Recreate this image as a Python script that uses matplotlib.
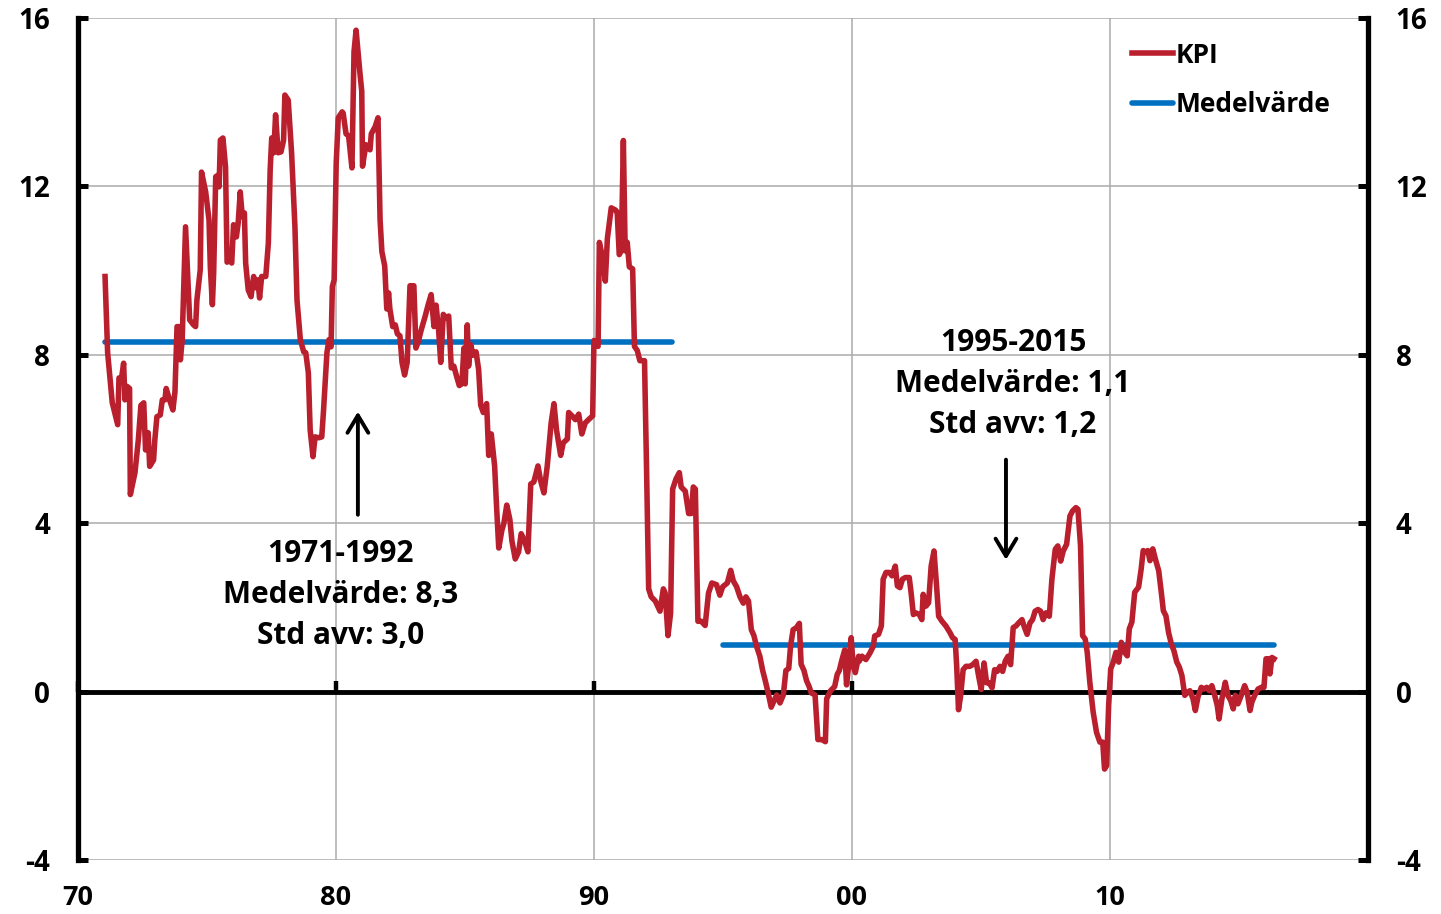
import matplotlib
matplotlib.use("Agg")
import matplotlib.pyplot as plt
import numpy as np

# ====== 資料 ======
# KPI, årlig förändring i procent
kpi_year = [
    1971.05, 1971.15, 1971.33, 1971.54, 1971.59, 1971.69, 1971.77, 1971.82, 1971.90, 1972.00,
    1972.03, 1972.21, 1972.34, 1972.44, 1972.55, 1972.62, 1972.72, 1972.78, 1972.93, 1972.98,
    1973.06, 1973.19, 1973.27, 1973.37, 1973.42, 1973.55, 1973.68, 1973.76, 1973.84, 1973.91,
    1973.97, 1974.04, 1974.10, 1974.17, 1974.25, 1974.33, 1974.48, 1974.56, 1974.61, 1974.74,
    1974.79, 1974.95, 1975.08, 1975.13, 1975.21, 1975.26, 1975.34, 1975.44, 1975.47, 1975.52,
    1975.62, 1975.72, 1975.78, 1975.88, 1975.96, 1976.03, 1976.14, 1976.21, 1976.29, 1976.37,
    1976.45, 1976.50, 1976.60, 1976.71, 1976.81, 1976.91, 1976.97, 1977.04, 1977.12, 1977.28,
    1977.38, 1977.45, 1977.51, 1977.59, 1977.66, 1977.76, 1977.87, 1977.97, 1978.02, 1978.15,
    1978.28, 1978.41, 1978.49, 1978.62, 1978.75, 1978.83, 1978.93, 1979.00, 1979.11, 1979.19,
    1979.34, 1979.45, 1979.52, 1979.65, 1979.73, 1979.81, 1979.86, 1979.93, 1980.01, 1980.09,
    1980.24, 1980.28, 1980.39, 1980.49, 1980.62, 1980.70, 1980.78, 1980.93, 1981.00, 1981.03,
    1981.16, 1981.32, 1981.37, 1981.52, 1981.63, 1981.71, 1981.78, 1981.89, 1981.97, 1982.04,
    1982.09, 1982.20, 1982.30, 1982.38, 1982.48, 1982.56, 1982.66, 1982.76, 1982.87, 1983.02,
    1983.10, 1983.20, 1983.30, 1983.46, 1983.57, 1983.69, 1983.80, 1983.88, 1983.98, 1984.06,
    1984.16, 1984.26, 1984.37, 1984.47, 1984.57, 1984.68, 1984.78, 1984.88, 1984.96, 1985.01,
    1985.09, 1985.14, 1985.22, 1985.32, 1985.43, 1985.53, 1985.61, 1985.71, 1985.84, 1985.92,
    1986.02, 1986.15, 1986.23, 1986.31, 1986.43, 1986.51, 1986.62, 1986.74, 1986.82, 1986.95,
    1987.08, 1987.18, 1987.31, 1987.44, 1987.55, 1987.67, 1987.83, 1987.93, 1988.06, 1988.19,
    1988.34, 1988.45, 1988.55, 1988.71, 1988.81, 1988.97, 1989.02, 1989.15, 1989.28, 1989.41,
    1989.53, 1989.66, 1989.79, 1989.95, 1990.00, 1990.16, 1990.21, 1990.31, 1990.44, 1990.52,
    1990.67, 1990.83, 1990.90, 1990.98, 1991.06, 1991.14, 1991.21, 1991.29, 1991.37, 1991.50,
    1991.57, 1991.68, 1991.78, 1991.96, 1992.04, 1992.12, 1992.22, 1992.38, 1992.56, 1992.69,
    1992.76, 1992.87, 1992.97, 1993.05, 1993.18, 1993.31, 1993.38, 1993.54, 1993.67, 1993.77,
    1993.85, 1993.93, 1994.03, 1994.16, 1994.31, 1994.44, 1994.57, 1994.75, 1994.88, 1994.99,
    1995.17, 1995.30, 1995.40, 1995.53, 1995.66, 1995.79, 1995.89, 1995.99, 1996.10, 1996.20,
    1996.30, 1996.43, 1996.54, 1996.64, 1996.77, 1996.87, 1996.98, 1997.08, 1997.21, 1997.34,
    1997.44, 1997.55, 1997.62, 1997.72, 1997.85, 1997.96, 1998.03, 1998.14, 1998.24, 1998.34,
    1998.42, 1998.57, 1998.68, 1998.84, 1998.97, 1999.02, 1999.17, 1999.33, 1999.43, 1999.51,
    1999.61, 1999.72, 1999.79, 1999.87, 1999.97, 2000.05, 2000.13, 2000.26, 2000.28, 2000.39,
    2000.54, 2000.70, 2000.83, 2000.88, 2001.03, 2001.14, 2001.21, 2001.32, 2001.45, 2001.55,
    2001.68, 2001.76, 2001.86, 2001.96, 2002.07, 2002.22, 2002.30, 2002.38, 2002.48, 2002.61,
    2002.71, 2002.76, 2002.87, 2002.97, 2003.07, 2003.18, 2003.28, 2003.36, 2003.49, 2003.64,
    2003.80, 2003.90, 2004.00, 2004.06, 2004.13, 2004.21, 2004.31, 2004.42, 2004.57, 2004.68,
    2004.81, 2004.91, 2005.01, 2005.12, 2005.22, 2005.32, 2005.43, 2005.53, 2005.63, 2005.74,
    2005.84, 2005.94, 2006.05, 2006.15, 2006.25, 2006.36, 2006.46, 2006.59, 2006.69, 2006.79,
    2006.90, 2007.00, 2007.10, 2007.21, 2007.31, 2007.41, 2007.52, 2007.65, 2007.75, 2007.88,
    2007.98, 2008.09, 2008.19, 2008.32, 2008.45, 2008.55, 2008.68, 2008.76, 2008.86, 2008.94,
    2009.04, 2009.12, 2009.22, 2009.35, 2009.48, 2009.61, 2009.72, 2009.79, 2009.87, 2009.95,
    2010.03, 2010.13, 2010.23, 2010.34, 2010.44, 2010.57, 2010.67, 2010.75, 2010.85, 2010.96,
    2011.11, 2011.21, 2011.29, 2011.37, 2011.47, 2011.55, 2011.66, 2011.76, 2011.89, 2011.99,
    2012.07, 2012.17, 2012.27, 2012.38, 2012.48, 2012.59, 2012.69, 2012.79, 2012.90, 2013.00,
    2013.10, 2013.22, 2013.31, 2013.41, 2013.54, 2013.64, 2013.75, 2013.85, 2013.95, 2014.06,
    2014.16, 2014.23, 2014.34, 2014.47, 2014.57, 2014.68, 2014.78, 2014.86, 2014.96, 2015.09,
    2015.22, 2015.32, 2015.43, 2015.50, 2015.61, 2015.74, 2015.87, 2015.97, 2016.05, 2016.15,
    2016.20, 2016.28, 2016.36,
]
kpi_value = [
    9.86, 8.05, 6.86, 6.34, 7.45, 7.45, 7.80, 6.93, 7.25, 7.20,
    4.68, 5.20, 5.98, 6.80, 6.86, 5.74, 6.15, 5.35, 5.50, 5.98,
    6.53, 6.57, 6.93, 6.93, 7.20, 6.93, 6.69, 7.12, 8.67, 8.67,
    7.88, 8.36, 9.62, 11.04, 9.94, 8.83, 8.71, 8.67, 9.30, 10.02,
    12.34, 11.87, 11.20, 10.09, 9.19, 9.94, 12.23, 12.27, 11.99, 13.10,
    13.15, 12.46, 10.20, 10.26, 10.18, 11.09, 10.80, 11.13, 11.87, 11.28,
    11.37, 10.18, 9.54, 9.38, 9.86, 9.59, 9.78, 9.35, 9.86, 9.86,
    10.66, 12.39, 13.15, 12.80, 13.70, 12.80, 12.82, 13.10, 14.17, 14.05,
    12.80, 11.04, 9.30, 8.36, 8.07, 8.05, 7.57, 6.22, 5.58, 6.05,
    6.03, 6.05, 6.69, 8.05, 8.36, 8.19, 9.62, 9.78, 12.56, 13.63,
    13.77, 13.74, 13.25, 13.20, 12.44, 15.20, 15.71, 14.69, 14.26, 12.48,
    12.99, 12.87, 13.25, 13.42, 13.63, 11.21, 10.45, 10.11, 9.09, 9.47,
    9.09, 8.67, 8.71, 8.50, 8.45, 7.82, 7.52, 7.82, 9.64, 9.64,
    8.16, 8.33, 8.58, 8.92, 9.18, 9.43, 8.67, 9.18, 8.58, 7.82,
    8.96, 8.88, 8.92, 7.69, 7.73, 7.48, 7.27, 7.31, 8.16, 7.31,
    8.71, 7.73, 8.24, 7.99, 8.07, 7.65, 6.80, 6.63, 6.84, 5.61,
    6.12, 5.36, 4.34, 3.41, 3.83, 4.00, 4.43, 4.09, 3.58, 3.15,
    3.32, 3.75, 3.58, 3.32, 4.93, 4.98, 5.36, 5.02, 4.72, 5.36,
    6.38, 6.84, 6.21, 5.61, 5.91, 6.00, 6.63, 6.55, 6.46, 6.59,
    6.12, 6.38, 6.46, 6.55, 8.34, 8.20, 10.67, 10.38, 9.75, 10.76,
    11.49, 11.44, 11.39, 10.38, 10.47, 13.09, 10.47, 10.67, 10.09, 10.04,
    8.20, 8.10, 7.86, 7.86, 5.25, 2.44, 2.25, 2.15, 1.91, 2.44,
    2.34, 1.33, 1.86, 4.81, 5.05, 5.20, 4.86, 4.76, 4.23, 4.23,
    4.86, 4.81, 1.67, 1.67, 1.57, 2.34, 2.58, 2.54, 2.29, 2.49,
    2.58, 2.88, 2.63, 2.49, 2.25, 2.10, 2.25, 2.15, 1.47, 1.33,
    1.08, 0.84, 0.50, 0.26, -0.08, -0.37, -0.22, -0.08, -0.27, -0.08,
    0.50, 0.55, 1.08, 1.47, 1.52, 1.62, 0.65, 0.50, 0.26, 0.12,
    -0.03, -0.08, -1.14, -1.14, -1.19, -0.17, 0.02, 0.12, 0.41, 0.50,
    0.75, 0.99, 0.16, 0.60, 1.28, 0.60, 0.45, 0.84, 0.72, 0.84,
    0.76, 0.92, 1.08, 1.32, 1.36, 1.56, 2.67, 2.83, 2.83, 2.75,
    2.98, 2.51, 2.47, 2.67, 2.71, 2.71, 2.31, 1.83, 1.87, 1.83,
    1.71, 2.31, 2.03, 2.11, 2.98, 3.34, 2.51, 1.79, 1.67, 1.56,
    1.40, 1.28, 1.24, 0.60, -0.43, -0.11, 0.52, 0.60, 0.60, 0.64,
    0.72, 0.37, 0.05, 0.68, 0.21, 0.21, 0.09, 0.52, 0.48, 0.60,
    0.48, 0.72, 0.84, 0.64, 1.52, 1.56, 1.63, 1.71, 1.52, 1.36,
    1.63, 1.71, 1.91, 1.95, 1.91, 1.71, 1.87, 1.79, 2.67, 3.38,
    3.46, 3.10, 3.34, 3.50, 4.17, 4.29, 4.37, 4.33, 3.46, 1.33,
    1.25, 0.93, 0.22, -0.49, -0.97, -1.20, -1.20, -1.84, -1.76, -0.33,
    0.54, 0.70, 0.93, 0.70, 1.17, 0.93, 0.85, 1.49, 1.65, 2.36,
    2.48, 2.91, 3.35, 3.31, 3.35, 3.11, 3.39, 3.15, 2.87, 2.36,
    1.92, 1.80, 1.41, 1.13, 0.97, 0.70, 0.58, 0.38, -0.09, -0.02,
    0.02, -0.17, -0.45, -0.13, 0.10, 0.06, 0.10, 0.02, 0.14, -0.09,
    -0.33, -0.65, -0.17, 0.22, -0.09, -0.21, -0.41, -0.09, -0.29, -0.09,
    0.14, -0.02, -0.45, -0.25, -0.09, 0.06, 0.10, 0.10, 0.78, 0.78,
    0.42, 0.81, 0.78,
]

# Medelvärde per period: start, slut, nivå
mean_start = [1971.05, 1995.00]
mean_end = [1993.02, 2016.36]
mean_level = [8.3, 1.1]

# Axlar
x_ticks = [1970, 1980, 1990, 2000, 2010]
x_labels = ['70', '80', '90', '00', '10']
y_ticks = [-4, 0, 4, 8, 12, 16]
y_labels = ['-4', '0', '4', '8', '12', '16']

# Textrutor och pilar
note_texts = ["1971-1992\nMedelvärde: 8,3\nStd avv: 3,0",
              "1995-2015\nMedelvärde: 1,1\nStd avv: 1,2"]
note_pos = [(1980.19, 2.30), (2006.24, 7.31)]
arrow_from = [(1980.85, 4.20), (2005.97, 5.51)]
arrow_to = [(1980.85, 6.65), (2005.97, 3.13)]

RED = '#BA1F2E'
BLUE = '#0070C0'
GRID = '#ABABAB'

plt.rcParams['font.family'] = ['Open Sans', 'DejaVu Sans']
plt.rcParams['font.weight'] = 'bold'
plt.rcParams['axes.unicode_minus'] = False

fig = plt.figure(figsize=(14.41, 9.14), dpi=100)
ax = fig.add_axes([0.0541, 0.0591, 0.8952, 0.9212])

# ====== Linjer ======
ax.plot(kpi_year, kpi_value, color=RED, lw=4.0, label='KPI', zorder=4,
        solid_joinstyle='round')
for i, (s, e, lvl) in enumerate(zip(mean_start, mean_end, mean_level)):
    ax.plot([s, e], [lvl, lvl], color=BLUE, lw=4.0, solid_capstyle='round',
            label='Medelvärde' if i == 0 else None, zorder=3)

# ====== Axlar ======
ax.set_xlim(1970, 2020)
ax.set_ylim(-4, 16)
ax.set_yticks(y_ticks)
ax.set_yticklabels(y_labels, fontweight='bold')
ax.set_xticks(x_ticks)
ax.set_xticklabels([])
ax.grid(True, color=GRID, lw=1.1, zorder=0)
ax.set_axisbelow(True)

for side in ['left', 'right']:
    ax.spines[side].set_linewidth(3.8)
ax.spines['top'].set_visible(False)
ax.spines['bottom'].set_position(('data', 0))
ax.spines['bottom'].set_linewidth(3.5)
ax.spines['bottom'].set_zorder(2.5)

ax.tick_params(axis='y', which='both', direction='in', length=7.5, width=3.6,
               left=True, right=True, labelleft=True, labelright=True,
               labelsize=20, pad=20)
ax.tick_params(axis='x', direction='in', length=8, width=3.2, bottom=True,
               labelbottom=False)

# x-etiketter längst ner
sec = ax.secondary_xaxis('bottom')
sec.set_xticks(x_ticks)
sec.set_xticklabels(x_labels, fontweight='bold')
sec.spines['bottom'].set_visible(False)
sec.tick_params(length=0, labelsize=19.5, pad=18)

# ====== Text och pilar ======
for txt, (tx, ty) in zip(note_texts, note_pos):
    ax.text(tx, ty, txt, ha='center', va='center', fontsize=21.5,
            fontweight='bold', linespacing=1.48, zorder=6)
for (x0, y0), (x1, y1) in zip(arrow_from, arrow_to):
    ax.annotate('', xy=(x1, y1), xytext=(x0, y0),
                arrowprops=dict(arrowstyle='->,head_length=0.5,head_width=0.3',
                                color='black', lw=2.8, mutation_scale=25,
                                shrinkA=0, shrinkB=0), zorder=6)

ax.legend(loc='upper left', bbox_to_anchor=(0.817, 0.972), frameon=False,
          handlelength=1.55, handletextpad=0.1, labelspacing=0.85,
          borderpad=0, borderaxespad=0, prop={'weight': 'bold', 'size': 19})

fig.savefig('out.png', dpi=100)
